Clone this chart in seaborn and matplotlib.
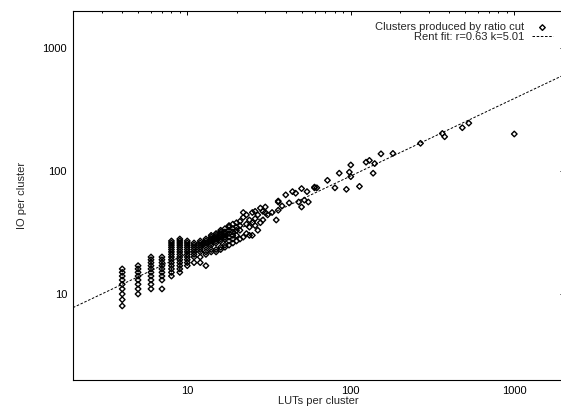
import numpy as np
import pandas as pd
import matplotlib
matplotlib.use("Agg")
import matplotlib.pyplot as plt
import matplotlib.ticker as mticker
import seaborn as sns

# ---- data ----
column_luts = [4, 5, 6, 7, 8, 9, 10, 11, 12, 13, 14, 15, 16, 17, 18, 19, 20,
               21, 22, 23, 24, 25, 26, 27, 28, 29, 30, 31, 33, 35, 36, 38, 40,
               42, 44, 46, 48, 50, 52, 54, 55, 60, 62, 72, 80, 85, 94, 98, 100,
               113, 124, 130, 137, 140, 153, 181, 267, 363, 375, 481, 527, 1000]
column_ios = [
    [8, 9, 10, 11, 12, 13, 14, 15, 16],
    [10, 11, 12, 13, 14, 15, 16, 17],
    [11, 12, 13, 14, 15, 16, 17, 18, 19, 20],
    [11, 13, 14, 15, 16, 17, 18, 19, 20],
    [14, 15, 16, 17, 18, 19, 20, 21, 22, 23, 24, 25, 26, 27],
    [15, 16, 17, 18, 19, 20, 21, 22, 23, 24, 25, 26, 27, 28],
    [17, 18, 19, 20, 21, 22, 23, 24, 25, 26, 27],
    [18, 20, 21, 22, 23, 24, 25, 26],
    [18, 20, 22, 23, 24, 25, 26, 27],
    [17, 21, 22, 24, 25, 26, 27, 28],
    [22, 23, 25, 26, 27, 28, 29, 30],
    [22, 23, 26, 27, 28, 29, 30, 31],
    [23, 24, 27, 28, 29, 30, 31, 32, 33],
    [24, 25, 28, 29, 30, 31, 32, 34],
    [25, 27, 29, 31, 33, 35, 36],
    [26, 28, 30, 32, 34, 37],
    [27, 30, 33, 35, 38],
    [28, 33, 36, 39],
    [29, 42, 46],
    [31, 37, 44],
    [30, 35, 40],
    [30, 38, 46],
    [36, 41, 47],
    [33, 44],
    [38, 50],
    [40, 47],
    [46, 51],
    [44],
    [46],
    [40],
    [48, 56, 57],
    [52],
    [64],
    [55],
    [68],
    [66],
    [56],
    [51, 72],
    [58],
    [68],
    [56],
    [73, 74],
    [73],
    [84],
    [73],
    [96],
    [71],
    [98],
    [90, 112],
    [75],
    [118],
    [122],
    [96],
    [115],
    [138],
    [139],
    [168],
    [202],
    [190],
    [225],
    [245],
    [200],
]
rent_r = 0.63
rent_k = 5.01
x_range = [2, 2000]
y_range = [2, 2000]
major_ticks = [10, 100, 1000]

scatter_label = "Clusters produced by ratio cut"
fit_label = f"Rent fit: r={rent_r:.2f} k={rent_k:.2f}"

# ---- build tables ----
points = pd.DataFrame(
    [(lut, io) for lut, ios in zip(column_luts, column_ios) for io in ios],
    columns=["LUTs", "IO"],
)
fit_x = np.array(x_range, dtype=float)
fit = pd.DataFrame({"LUTs": fit_x, "IO": rent_k * fit_x ** rent_r})

# ---- style ----
sns.set_style("white")
plt.rcParams["font.family"] = ["Liberation Sans", "DejaVu Sans"]
FS = 8

fig = plt.figure(figsize=(5.61, 4.07), dpi=100)
ax = fig.add_axes([73 / 561, 27 / 407, 490.5 / 561, 369 / 407])

sns.scatterplot(data=points, x="LUTs", y="IO", ax=ax, marker="D", s=8,
                facecolor="none", edgecolor="black", linewidth=1.0,
                label=scatter_label, zorder=3)
sns.lineplot(data=fit, x="LUTs", y="IO", ax=ax, color="black", linewidth=0.7,
             label=fit_label, zorder=2)
fit_line = ax.get_lines()[0]
fit_line.set_dashes((2.6, 1.7))

ax.set_xscale("log")
ax.set_yscale("log")
ax.set_xlim(*x_range)
ax.set_ylim(*y_range)

fmt = mticker.FuncFormatter(lambda v, p: f"{v:g}")
for axis in (ax.xaxis, ax.yaxis):
    axis.set_major_locator(mticker.FixedLocator(major_ticks))
    axis.set_major_formatter(fmt)
    axis.set_minor_locator(mticker.LogLocator(base=10, subs=np.arange(2, 10)))
    axis.set_minor_formatter(mticker.NullFormatter())

ax.tick_params(which="both", direction="in", top=True, right=True,
               colors="black", width=0.7, labelsize=FS)
ax.tick_params(which="major", length=3.2, pad=4.3)
ax.tick_params(which="minor", length=1.6)
for sp in ax.spines.values():
    sp.set_color("black")
    sp.set_linewidth(0.8)

ax.set_xlabel("LUTs per cluster", fontsize=FS, labelpad=0.3)
ax.set_ylabel("IO per cluster", fontsize=FS, labelpad=11)

leg = ax.legend(loc="upper right", bbox_to_anchor=(553 / 561, 384.5 / 407),
                bbox_transform=fig.transFigure, frameon=False,
                markerfirst=False, handlelength=1.9, handletextpad=0.7,
                labelspacing=-0.08, borderpad=0, borderaxespad=0,
                fontsize=FS)
for h in leg.legend_handles:
    if isinstance(h, matplotlib.lines.Line2D):
        h.set_dashes((2.6, 1.7))

fig.savefig("out.png", dpi=100)
